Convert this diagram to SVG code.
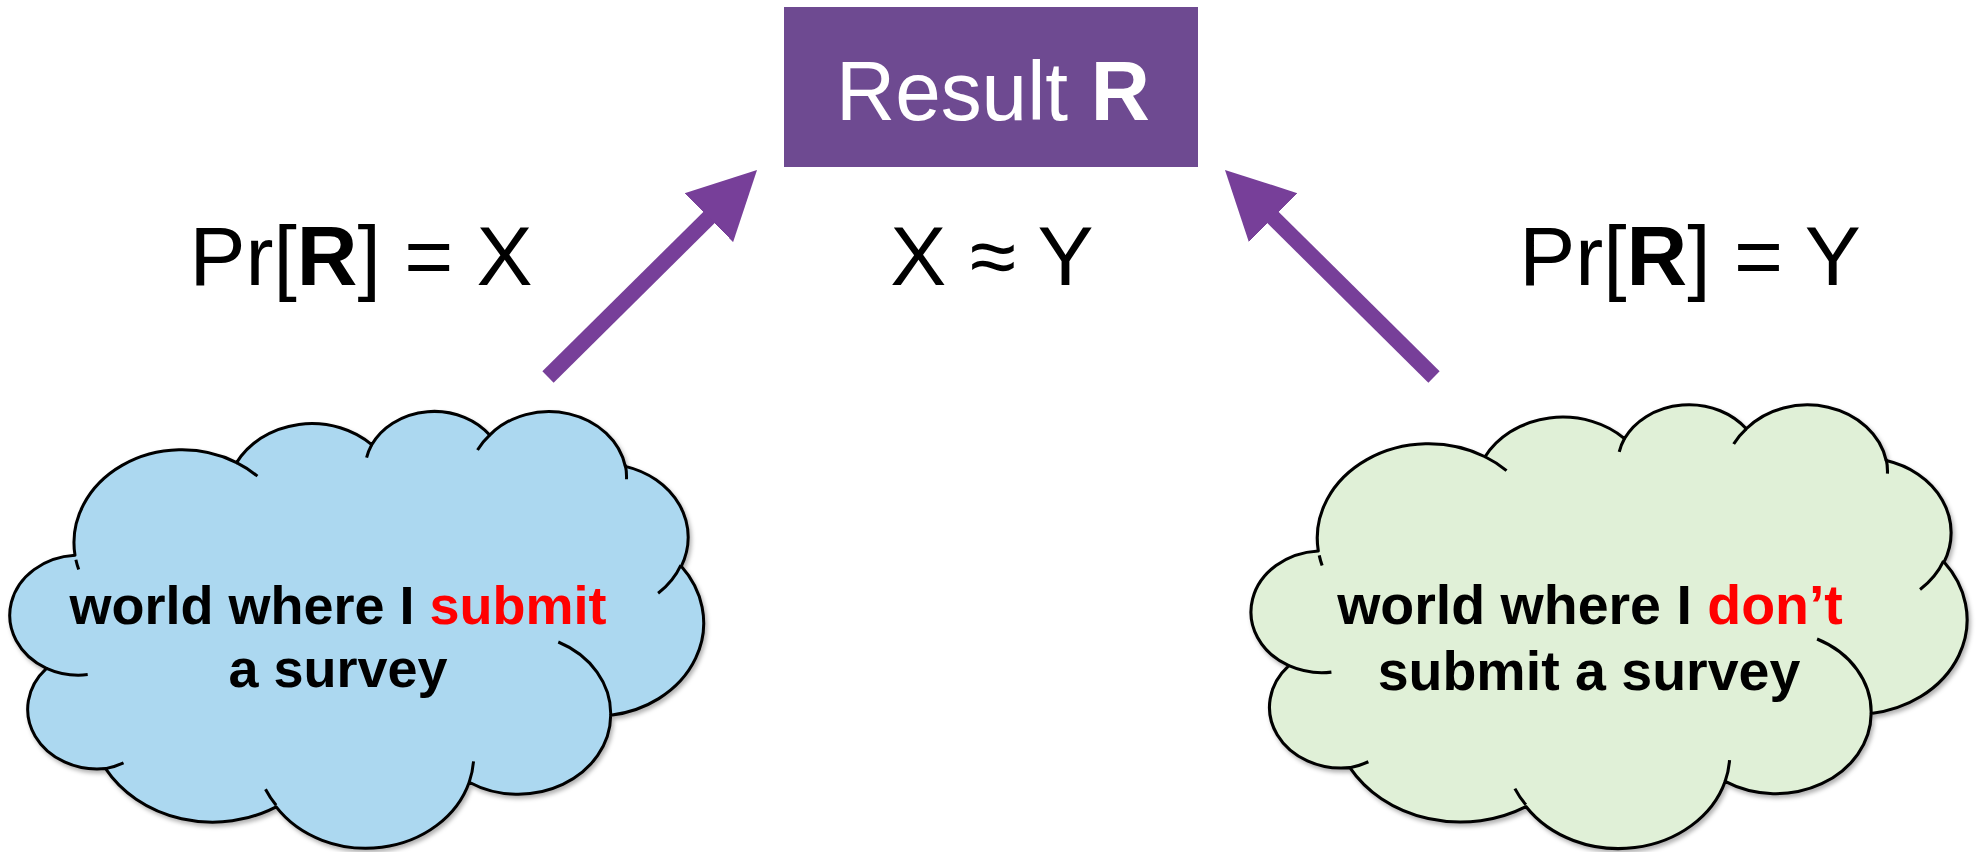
<svg xmlns="http://www.w3.org/2000/svg" xmlns:xlink="http://www.w3.org/1999/xlink" width="1981" height="852" viewBox="0 0 1981 852">
  <style>
    .big { font-family: "Liberation Sans", Arial, Helvetica, sans-serif; font-size: 84px; fill: #000; }
    .bold { font-weight: bold; }
    .cloudtxt { font-family: "Liberation Sans", Arial, Helvetica, sans-serif; font-weight: bold; fill: #000; text-anchor: middle; }
    .red { fill: #ff0000; }
    .outline { stroke: #000; stroke-width: 3; stroke-linejoin: round; }
    .inner { fill: none; stroke: #000; stroke-width: 3; stroke-linecap: butt; }
    .arrow { stroke: #773f99; stroke-width: 16; fill: none; }
  </style>
  <defs>
    <filter id="shadow" x="-5%" y="-5%" width="110%" height="115%">
      <feDropShadow dx="2" dy="3" stdDeviation="2" flood-color="#000" flood-opacity="0.3"/>
    </filter>
    <marker id="head" markerUnits="userSpaceOnUse" markerWidth="70" markerHeight="70" viewBox="0 -32 64 64" refX="2" refY="0" orient="auto">
      <path d="M0,-31.5 L62,0 L0,31.5 Z" fill="#773f99"/>
    </marker>
    <path id="cloudOutline" d="M 75.0 555.3 A 107.95 92.90 0 0 1 236.6 462.6 A 85.25 73.46 0 0 1 371.7 444.7 A 69.78 60.10 0 0 1 489.7 435.1 A 77.64 66.67 0 0 1 625.3 466.4 A 85.25 73.52 0 0 1 681.3 566.3 A 108.31 93.20 0 0 1 610.7 715.3 A 92.48 79.53 0 0 1 469.2 782.2 A 107.94 93.15 0 0 1 276.2 806.9 A 123.41 106.58 0 0 1 105.6 768.6 A 69.70 59.83 0 0 1 46.5 668.3 A 69.46 60.10 0 0 1 75.0 555.3 Z"/>
    <path id="cloudInner" d="M 87.7 674.6 A 69.46 60.10 0 0 1 46.5 668.3 M 123.5 762.8 A 69.70 59.83 0 0 1 105.6 768.6 M 276.1 805.2 A 107.94 93.15 0 0 1 265.5 789.3 M 473.5 761.3 A 107.94 93.15 0 0 1 469.2 782.2 M 558.3 642.0 A 92.48 79.53 0 0 1 610.7 715.3 M 680.9 565.2 A 85.25 73.52 0 0 1 658.1 593.3 M 625.3 464.9 A 77.64 66.67 0 0 1 626.5 479.2 M 477.5 450.0 A 77.64 66.67 0 0 1 489.7 435.1 M 366.6 457.7 A 69.78 60.10 0 0 1 371.7 444.7 M 236.6 462.6 A 107.95 92.90 0 0 1 257.4 476.2 M 78.7 569.6 A 107.95 92.90 0 0 1 75.9 559.7"/>
  </defs>

  <rect width="1981" height="852" fill="#ffffff"/>

  <g id="node-result">
    <rect x="784" y="7" width="414" height="160" fill="#6e4a91"/>
    <text x="993" y="120" class="big" text-anchor="middle" style="fill:#fff" textLength="314" lengthAdjust="spacingAndGlyphs">Result <tspan class="bold">R</tspan></text>
  </g>

  <g id="node-cloud-submit">
    <use href="#cloudOutline" xlink:href="#cloudOutline" class="outline" fill="#acd8f0" filter="url(#shadow)"/>
    <use href="#cloudInner" xlink:href="#cloudInner" class="inner"/>
    <text class="cloudtxt" font-size="54" x="338" y="624">world where I <tspan class="red">submit</tspan></text>
    <text class="cloudtxt" font-size="54" x="338" y="687">a survey</text>
  </g>

  <g id="node-cloud-dont">
    <g transform="translate(1240.9,-13.26) scale(1.032,1.016)">
      <use href="#cloudOutline" xlink:href="#cloudOutline" class="outline" fill="#e0f0d7" filter="url(#shadow)"/>
      <use href="#cloudInner" xlink:href="#cloudInner" class="inner"/>
    </g>
    <text class="cloudtxt" font-size="55.5" x="1590" y="624">world where I <tspan class="red">don’t</tspan></text>
    <text class="cloudtxt" font-size="55.5" x="1589" y="690">submit a survey</text>
  </g>

  <g id="connectors">
    <line class="arrow" x1="548" y1="377" x2="710.4" y2="216.1" marker-end="url(#head)"/>
    <line class="arrow" x1="1434" y1="377" x2="1271.6" y2="216.1" marker-end="url(#head)"/>
  </g>

  <g id="label-pr-x">
    <text class="big" x="361" y="285" text-anchor="middle">Pr[<tspan class="bold">R</tspan>] = X</text>
  </g>
  <g id="label-approx">
    <text class="big" x="992" y="285" text-anchor="middle">X ≈ Y</text>
  </g>
  <g id="label-pr-y">
    <text class="big" x="1690" y="285" text-anchor="middle">Pr[<tspan class="bold">R</tspan>] = Y</text>
  </g>
</svg>
